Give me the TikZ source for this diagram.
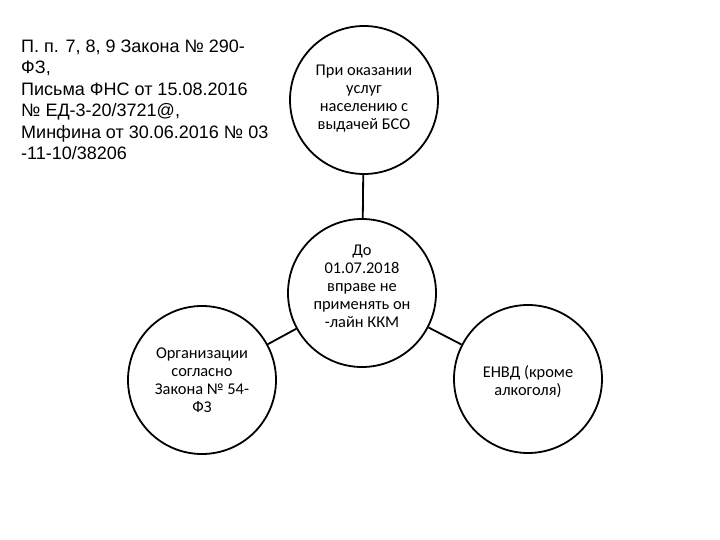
\documentclass[tikz,border=0pt]{standalone}
\usepackage{fontspec}
\setmainfont{Carlito}
\newfontfamily\arialf{Liberation Sans}
\begin{document}
\begin{tikzpicture}[x=1pt,y=-1pt,
  bub/.style={circle,draw=black,line width=1.8pt,minimum size=148pt,inner sep=0pt},
  btext/.style={align=center,font=\fontsize{16.4}{18}\selectfont,inner sep=0pt},
  conn/.style={draw=black,line width=1.8pt}]
\useasboundingbox (0,0) rectangle (720,540);
\fill[white] (0,0) rectangle (720,540);
\node[bub] (top) at (364,100) {};
\node[bub] (mid) at (362,293) {};
\node[bub] (lft) at (202,380) {};
\node[bub] (rgt) at (528,379) {};
\node[btext] (toptext) at (364,99) {При оказании\\услуг\\населению с\\выдачей БСО};
\node[btext] (midtext) at (362,286) {До\\01.07.2018\\вправе не\\применять он\\-лайн ККМ};
\node[btext] (lfttext) at (202,380) {Организации\\согласно\\Закона № 54-\\ФЗ};
\node[btext] (rgttext) at (528,382) {ЕНВД (кроме\\алкоголя)};
\draw[conn] (top) -- (mid);
\draw[conn] (mid) -- (lft);
\draw[conn] (mid) -- (rgt);
\node[anchor=north west,align=left,inner sep=0pt,font=\arialf\fontsize{18}{21.5}\selectfont] (law) at (21,39.5)
  {П. п. 7, 8, 9 Закона № 290-\\ФЗ,\\Письма ФНС от 15.08.2016\\№ ЕД-3-20/3721@,\\Минфина от 30.06.2016 № 03\\-11-10/38206};
\end{tikzpicture}
\end{document}
